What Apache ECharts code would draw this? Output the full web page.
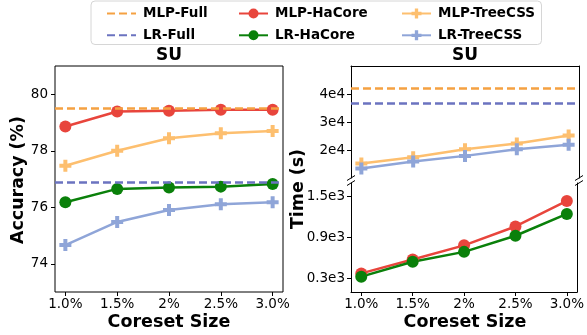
<!DOCTYPE html>
<html>
<head>
<meta charset="utf-8">
<script src="https://cdn.jsdelivr.net/npm/echarts@6/dist/echarts.min.js"></script>
<style>
html,body{margin:0;padding:0;background:#fff;}
#chart{width:587px;height:335px;}
</style>
</head>
<body>
<div id="chart"></div>
<script>
// ---- data ----
var categories = ['1.0%', '1.5%', '2%', '2.5%', '3.0%'];

var accMlpFull = 79.5;
var accLrFull = 76.9;
var accMlpHaCore = [78.86, 79.39, 79.42, 79.45, 79.45];
var accLrHaCore = [76.18, 76.65, 76.70, 76.73, 76.82];
var accMlpTreeCSS = [77.47, 78.00, 78.44, 78.62, 78.70];
var accLrTreeCSS = [74.66, 75.48, 75.90, 76.11, 76.18];

var timeMlpFull = 42000;
var timeLrFull = 36800;
var timeMlpTreeCSS = [15200, 17400, 20300, 22300, 25200];
var timeLrTreeCSS = [13400, 15900, 17900, 20300, 21900];
var timeMlpHaCore = [373, 577, 785, 1062, 1436];
var timeLrHaCore = [325, 543, 689, 926, 1246];

var accTicks = [74, 76, 78, 80];
var timeUpperTicks = [20000, 30000, 40000];
var timeUpperTickLabels = ['2e4', '3e4', '4e4'];
var timeLowerTicks = [300, 900, 1500];
var timeLowerTickLabels = ['0.3e3', '0.9e3', '1.5e3'];

// ---- styles ----
var C = {
  mlpFull: '#F5A142', lrFull: '#6B73C0',
  mlpHa: '#E8453C', lrHa: '#0A800A',
  mlpTree: '#FDBF6F', lrTree: '#8FA5D8'
};
var FONT = 'DejaVu Sans';
var PLUS = 'path://M-1,-3L1,-3L1,-1L3,-1L3,1L1,1L1,3L-1,3L-1,1L-3,1L-3,-1L-1,-1Z';
var xIdx = categories.map(function (_, i) { return i; });
function pts(arr) { return arr.map(function (v, i) { return [i, v]; }); }

var G = [
  {left: 55, top: 66, width: 228, height: 226},
  {left: 351, top: 66, width: 228, height: 112},
  {left: 351, top: 183, width: 228, height: 109}
];

function xAxisDef(gi, showLabels, pos) {
  return {
    type: 'value', gridIndex: gi, min: -0.2, max: 4.2, position: pos,
    splitLine: {show: false},
    axisLine: {show: gi !== 0, onZero: false, lineStyle: {color: '#000', width: 1}},
    axisTick: {show: showLabels, customValues: xIdx, length: 4, lineStyle: {color: '#000', width: 1}},
    axisLabel: {show: showLabels, customValues: xIdx, margin: 5, color: '#000', fontFamily: FONT, fontSize: 13.5,
      formatter: function (v) { return categories[Math.round(v)]; }}
  };
}
function yAxisDef(gi, min, max, ticks, labels, pos, showLabels, margin) {
  return {
    type: 'value', gridIndex: gi, min: min, max: max, position: pos,
    splitLine: {show: false},
    axisLine: {show: gi !== 0, onZero: false, lineStyle: {color: '#000', width: 1}},
    axisTick: {show: showLabels, customValues: ticks, length: 4, lineStyle: {color: '#000', width: 1}},
    axisLabel: {show: showLabels, customValues: ticks, margin: margin, color: '#000', fontFamily: FONT, fontSize: 13.5,
      formatter: function (v) {
        if (!labels) return String(v);
        var k = ticks.indexOf(v); return k >= 0 ? labels[k] : '';
      }}
  };
}

function markSeries(name, color, symbol, data, xi, yi) {
  return {
    name: name, type: 'line', xAxisIndex: xi, yAxisIndex: yi, data: pts(data),
    symbol: symbol, symbolSize: 12, showSymbol: true,
    lineStyle: {color: color, width: 2.5}, itemStyle: {color: color},
    emphasis: {disabled: true}, animation: false, z: 3
  };
}
function fullSeries(name, color, value, xi, yi) {
  return {
    name: name, type: 'line', xAxisIndex: xi, yAxisIndex: yi, data: [],
    symbol: 'none',
    lineStyle: {color: color, width: 2.5, type: [8, 4]}, itemStyle: {color: color},
    markLine: {
      silent: true, symbol: ['none', 'none'], label: {show: false},
      lineStyle: {color: color, width: 2.5, type: [8, 4]},
      emphasis: {disabled: true},
      data: [{yAxis: value}]
    },
    animation: false, z: 2
  };
}

function legendDef(left, names) {
  return {
    orient: 'vertical', left: left, top: 1.5,
    itemWidth: 29, itemHeight: 12.5, itemGap: 7.8,
    selectedMode: false,
    textStyle: {fontFamily: FONT, fontWeight: 'bold', fontSize: 13.5, color: '#000', padding: [0, 0, 0, 2]},
    data: names
  };
}

function breakLines(x, y) {
  return {type: 'line', shape: {x1: x - 4, y1: y + 2.5, x2: x + 4, y2: y - 2.5},
    style: {stroke: '#000', lineWidth: 1}, z: 10};
}
function txt(x, y, s, size, rot) {
  return {type: 'text', x: x, y: y, rotation: rot || 0, z: 10,
    style: {text: s, fontFamily: FONT, fontWeight: 'bold', fontSize: size, fill: '#000',
      align: 'center', verticalAlign: 'middle'}};
}

var option = {
  backgroundColor: '#fff',
  animation: false,
  grid: [
    Object.assign({show: true, borderColor: '#000', borderWidth: 1, backgroundColor: 'transparent'}, G[0]),
    Object.assign({show: false}, G[1]),
    Object.assign({show: false}, G[2])
  ],
  xAxis: [
    xAxisDef(0, true, 'bottom'),
    xAxisDef(1, false, 'top'),
    xAxisDef(2, true, 'bottom')
  ],
  yAxis: [
    yAxisDef(0, 73, 81, accTicks, null, 'left', true, 7),
    yAxisDef(1, 10000, 50000, timeUpperTicks, timeUpperTickLabels, 'left', true, 6),
    yAxisDef(1, 10000, 50000, timeUpperTicks, timeUpperTickLabels, 'right', false, 6),
    yAxisDef(2, 100, 1700, timeLowerTicks, timeLowerTickLabels, 'left', true, 6),
    yAxisDef(2, 100, 1700, timeLowerTicks, timeLowerTickLabels, 'right', false, 6)
  ],
  legend: [
    legendDef(101, [{name: 'MLP-Full', itemStyle: {opacity: 0}}, {name: 'LR-Full', itemStyle: {opacity: 0}}]),
    legendDef(233, ['MLP-HaCore', 'LR-HaCore']),
    legendDef(396, ['MLP-TreeCSS', 'LR-TreeCSS'])
  ],
  series: [
    // accuracy
    fullSeries('MLP-Full', C.mlpFull, accMlpFull, 0, 0),
    fullSeries('LR-Full', C.lrFull, accLrFull, 0, 0),
    markSeries('MLP-HaCore', C.mlpHa, 'circle', accMlpHaCore, 0, 0),
    markSeries('LR-HaCore', C.lrHa, 'circle', accLrHaCore, 0, 0),
    markSeries('MLP-TreeCSS', C.mlpTree, PLUS, accMlpTreeCSS, 0, 0),
    markSeries('LR-TreeCSS', C.lrTree, PLUS, accLrTreeCSS, 0, 0),
    // time upper
    fullSeries('MLP-Full', C.mlpFull, timeMlpFull, 1, 1),
    fullSeries('LR-Full', C.lrFull, timeLrFull, 1, 1),
    markSeries('MLP-TreeCSS', C.mlpTree, PLUS, timeMlpTreeCSS, 1, 1),
    markSeries('LR-TreeCSS', C.lrTree, PLUS, timeLrTreeCSS, 1, 1),
    // time lower
    markSeries('MLP-HaCore', C.mlpHa, 'circle', timeMlpHaCore, 2, 3),
    markSeries('LR-HaCore', C.lrHa, 'circle', timeLrHaCore, 2, 3)
  ],
  graphic: [
    {type: 'rect', shape: {x: 91, y: 1, width: 450.5, height: 43.5, r: 4},
      style: {fill: '#fff', stroke: '#d6d6d6', lineWidth: 1}, z: -10},
    txt(169, 56, 'SU', 17),
    txt(465, 56, 'SU', 17),
    txt(169, 322.5, 'Coreset Size', 17.5),
    txt(465, 322.5, 'Coreset Size', 17.5),
    txt(18.5, 180, 'Accuracy (%)', 17.4, Math.PI / 2),
    txt(298, 189, 'Time (s)', 17.4, Math.PI / 2),
    breakLines(351, 178), breakLines(351, 183),
    breakLines(579, 178), breakLines(579, 183)
  ]
};

var chart = echarts.init(document.getElementById('chart'), null, {renderer: 'canvas'});
chart.setOption(option);
</script>
</body>
</html>
